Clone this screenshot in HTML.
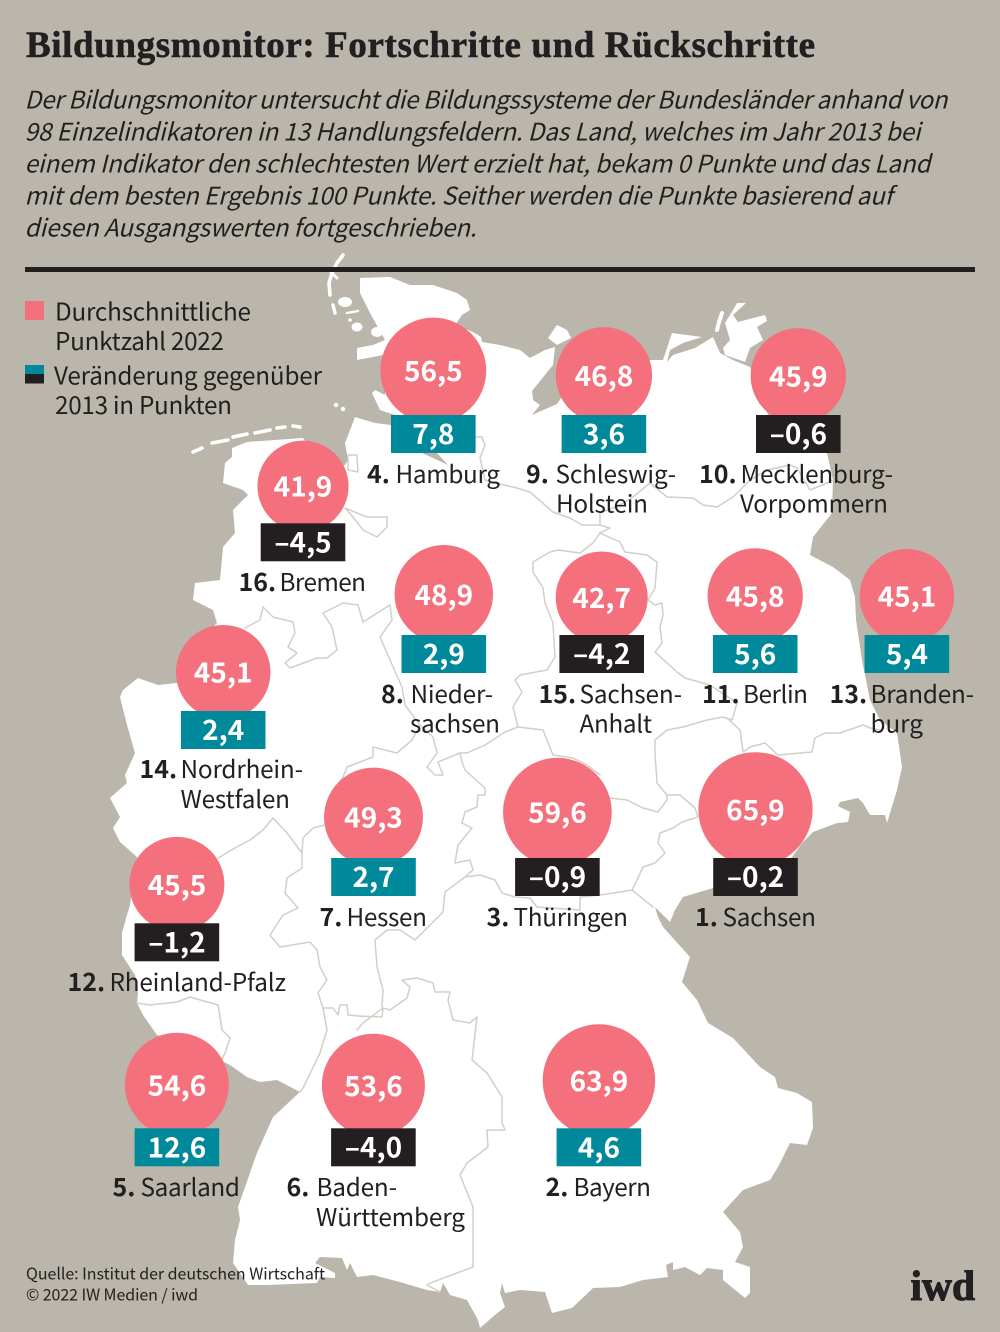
<!DOCTYPE html>
<html lang="de">
<head>
<meta charset="utf-8">
<title>Bildungsmonitor: Fortschritte und Rückschritte</title>
<style>
html,body{margin:0;padding:0;background:#bab6ab;}
svg{display:block;}
text{font-family:"Noto Sans CJK JP","Liberation Sans",sans-serif;fill:#231f20;}
.title{font-family:"Liberation Serif",serif;font-weight:700;font-size:37px;stroke:#231f20;stroke-width:.6px;}
.intro{font-style:italic;font-size:24.3px;}
.legend{font-size:24.3px;}
.label{font-size:24.3px;}
.rank{font-weight:700;font-size:25px;}
.source{font-size:16px;}
.logo{font-family:"Liberation Serif",serif;font-weight:700;font-size:42px;stroke:#231f20;stroke-width:1.1px;}
.val{font-weight:700;font-size:28px;fill:#fff;text-anchor:middle;}
</style>
</head>
<body>
<svg id="chart" xmlns="http://www.w3.org/2000/svg" width="1000" height="1332" viewBox="0 0 1000 1332">
<rect width="1000" height="1332" fill="#bab6ab"/>

<g id="map">
<path fill="#fff" d="M360,278 L390,277 410,285 433,285 457,293 467,300 470,310 462,315 455,325 473,332 481,337 482,342 500,345 520,350 530,358 545,350 555,347 553,365 532,391 533,400 540,405 532,415 557,404 570,385 600,370 650,360 663,360 672,333 702,337 683,343 670,350 667,362 673,355 695,348 713,337 720,353 733,360 750,367 770,420 810,450 827,453 833,480 832,513 813,537 810,555 833,567 850,580 855,597 856,620 862,660 870,700 880,720 897,733 902,767 897,790 887,823 885,815 870,815 863,803 858,798 840,802 838,806 850,812 848,822 837,823 813,832 802,843 790,860 760,880 713,888 683,897 675,910 670,922 655,907 658,917 663,927 690,957 682,982 697,1000 708,1023 733,1038 760,1067 775,1077 778,1088 797,1093 812,1102 813,1128 807,1145 790,1143 778,1167 770,1180 743,1190 723,1212 740,1232 743,1247 735,1262 750,1267 750,1293 745,1298 723,1280 723,1270 707,1268 700,1275 685,1267 673,1270 673,1262 666,1265 668,1277 643,1280 620,1287 593,1288 572,1308 552,1313 545,1292 520,1290 505,1293 502,1283 500,1293 505,1307 495,1315 480,1328 478,1320 467,1300 450,1295 443,1283 440,1292 427,1290 400,1282 373,1275 357,1277 350,1263 347,1270 342,1258 320,1257 315,1263 335,1273 335,1278 320,1277 317,1283 267,1285 248,1285 233,1263 235,1240 240,1220 238,1207 257,1153 273,1117 300,1092 277,1080 260,1082 247,1077 230,1065 200,1050 157,1035 143,1015 137,1003 138,993 135,975 122,955 122,933 127,915 130,905 137,857 120,842 113,828 120,817 110,798 127,783 125,775 135,753 127,725 120,697 123,690 138,678 158,685 177,683 200,640 217,623 213,610 193,600 195,583 220,580 223,547 235,533 233,510 248,495 243,490 223,483 225,463 232,457 232,448 247,442 303,438 325,470 345,465 348,460 345,443 347,438 355,417 375,423 391,425 420,452 448,465 437,453 420,435 395,415 380,410 372,393 375,390 385,395 385,365 383,355 357,360 357,348 373,345 385,340 370,313 360,293 Z"/>
<g fill="#fff" stroke="#fff" stroke-linecap="round" stroke-linejoin="round">
<polyline fill="none" stroke-width="3.6" points="343,255 337,263 332,273 329,283 330,295"/>
<polyline fill="none" stroke-width="3" points="331,272 337,278"/>
<polyline fill="none" stroke-width="3.5" points="333,305 335,313"/>
<ellipse cx="345" cy="302" rx="7" ry="5" stroke="none"/>
<polyline fill="none" stroke-width="2.4" points="347,313 358,311"/>
<circle cx="350" cy="320" r="1.8" stroke="none"/>
<ellipse cx="357" cy="327" rx="5.5" ry="4.5" stroke="none"/>
<ellipse cx="377" cy="332" rx="6" ry="5" stroke="none"/>
<circle cx="336" cy="405" r="2.2" stroke="none"/>
<circle cx="343" cy="409" r="2.2" stroke="none"/>
<polyline fill="none" stroke-width="3.6" points="193,452 202,448"/>
<polyline fill="none" stroke-width="3.6" points="212,443 228,440"/>
<polyline fill="none" stroke-width="3.6" points="233,437 247,434"/>
<polyline fill="none" stroke-width="3.6" points="255,433 270,430"/>
<polyline fill="none" stroke-width="3.6" points="277,428 285,427"/>
<polyline fill="none" stroke-width="3.6" points="293,426 300,427"/>
</g>
<g fill="#fff" stroke="#fff" stroke-linejoin="round" stroke-linecap="round">
<polygon stroke="none" points="548,338 557,325 567,330 571,338 557,345"/>
<polyline fill="none" stroke-width="4" points="722,313 719,322 717,330"/>
<polygon stroke="none" points="725,323 733,310 737,303 746,303 733,315 738,322 765,315 767,321 757,327 763,340 750,348 745,362 725,355 723,348 730,340"/>
</g>
<g fill="none" stroke="#d2cfc7" stroke-width="1.5" stroke-linejoin="round" stroke-linecap="round">
<polygon points="348,455 357,455 358,472 348,470"/>
<polygon points="345,508 367,517 387,517 387,527 377,537 363,530 353,517"/>
<polyline points="476,437 482,437 485,445 480,458 485,480 500,484 517,488 530,492 545,505 553,512 570,518 582,525 600,525 610,528 600,533 593,543 580,553"/>
<polyline points="600,533 620,542 625,552 647,555 657,562 655,588 648,600 655,605 662,603 663,615 660,627 662,643 655,652 677,672 685,678 710,685 737,703 732,720 723,717 707,720 683,727 667,730 655,740 655,753 657,783 667,795 680,795 695,808 698,817 682,822 673,828 660,833 658,843 665,853 655,863 643,867 637,880 632,890 653,907"/>
<polyline points="600,525 600,513 620,505 633,497 650,483 667,497 693,498 703,505 717,507 733,497 750,480 767,470 790,465 797,468 810,490 827,483 833,480"/>
<polyline points="727,718 740,730 743,752 750,747 765,743 778,755 812,752 815,738 825,733 840,733 863,725 870,728 880,730"/>
<polyline points="580,553 558,550 550,552 533,562 533,572 543,588 545,603 553,623 555,657 547,670 520,675 515,680 522,692 513,707 518,727 543,730 547,740 553,755 573,758 587,765 600,775"/>
<polyline points="610,798 627,800 643,808 658,812 667,800 667,795"/>
<polyline points="518,727 505,732 485,745 467,753 460,753 455,755 438,762 443,775 435,775 427,767 437,753 433,737 420,725"/>
<polyline points="245,628 260,620 263,607 273,617 293,622 295,633 288,647 297,653 285,663 290,668 317,658 327,658 337,650 332,627 323,613 343,603 358,605 363,622 390,605 392,620 380,637 387,653 393,667 402,687 405,705 420,725 412,740 397,753 373,747 373,757 347,767 343,777 335,790"/>
<polyline points="460,753 462,762 465,770 485,788 485,795 478,795 477,807 465,812 462,823 472,828 458,845 455,863 470,860 473,870 465,877 480,875 495,880 502,893 515,897 530,898 537,907 580,910 580,897 600,895 620,892 632,890"/>
<polyline points="465,877 445,892 443,912 425,930 415,940 400,930 387,930 375,940 377,967 383,990 382,1007"/>
<polyline points="323,1008 333,1008 338,1015 340,1005 347,1005 348,1015 358,1016 382,1017 383,1008 363,1023 357,1030"/>
<polyline points="383,1008 390,1010 407,998 410,987 402,980 417,978 433,983 435,992 450,992 448,1000 453,1020 470,1023 477,1017 472,1060 487,1073 502,1097 502,1123 505,1130 487,1130 488,1147 467,1163 460,1175 473,1207 473,1253 473,1267 433,1282 427,1285 440,1292"/>
<polyline points="218,858 235,848 250,840 263,830 273,818 287,833 302,853 303,838 313,828 325,825"/>
<polyline points="302,853 302,868 287,878 285,893 298,908 283,915 270,935 280,947 310,942 317,950 320,967 327,980 318,993 323,1008 327,1030 320,1053 303,1088 300,1092"/>
<polyline points="137,1003 150,1005 177,1002 190,997 218,1005 222,1030 230,1038 225,1053 220,1063"/>
</g>
</g>

<rect x="25" y="267" width="950" height="5" fill="#231f20"/>

<text class="title" x="26" y="57" textLength="789" lengthAdjust="spacing">Bildungsmonitor: Fortschritte und Rückschritte</text>
<g>
<text class="intro" x="24.5" y="108.5" textLength="923" lengthAdjust="spacing">Der Bildungsmonitor untersucht die Bildungssysteme der Bundesländer anhand von</text>
<text class="intro" x="24.5" y="140.5" textLength="896" lengthAdjust="spacing">98 Einzelindikatoren in 13 Handlungsfeldern. Das Land, welches im Jahr 2013 bei</text>
<text class="intro" x="24.5" y="172.5" textLength="906" lengthAdjust="spacing">einem Indikator den schlechtesten Wert erzielt hat, bekam 0 Punkte und das Land</text>
<text class="intro" x="24.5" y="204.5" textLength="868" lengthAdjust="spacing">mit dem besten Ergebnis 100 Punkte. Seither werden die Punkte basierend auf</text>
<text class="intro" x="24.5" y="236.5" textLength="452" lengthAdjust="spacing">diesen Ausgangswerten fortgeschrieben.</text>
</g>

<g>
<rect x="25" y="301" width="19" height="19" fill="#f4707c"/>
<text class="legend" x="55" y="320.5" textLength="196" lengthAdjust="spacing">Durchschnittliche</text>
<text class="legend" x="55" y="350" textLength="169" lengthAdjust="spacing">Punktzahl 2022</text>
<rect x="25" y="365" width="19" height="9" fill="#00899a"/>
<rect x="25" y="374" width="19" height="9.5" fill="#231f20"/>
<text class="legend" x="54" y="384.5" textLength="268" lengthAdjust="spacing">Veränderung gegenüber</text>
<text class="legend" x="55" y="414" textLength="177" lengthAdjust="spacing">2013 in Punkten</text>
</g>

<g id="markers">
<g id="m-hamburg" transform="translate(433.3,415)"></g>
<g id="m-schleswig-holstein" transform="translate(603.9,415)"></g>
<g id="m-mecklenburg-vorpommern" transform="translate(798.3,415)"></g>
<g id="m-bremen" transform="translate(303,523.3)"></g>
<g id="m-niedersachsen" transform="translate(443.8,635)"></g>
<g id="m-sachsen-anhalt" transform="translate(601.7,635)"></g>
<g id="m-berlin" transform="translate(755.2,635)"></g>
<g id="m-brandenburg" transform="translate(906.9,635)"></g>
<g id="m-nordrhein-westfalen" transform="translate(223.2,711)"></g>
<g id="m-hessen" transform="translate(373.5,858)"></g>
<g id="m-thueringen" transform="translate(557.4,858)"></g>
<g id="m-sachsen" transform="translate(755.5,858)"></g>
<g id="m-rheinland-pfalz" transform="translate(176.9,923.3)"></g>
<g id="m-saarland" transform="translate(176.9,1128.3)"></g>
<g id="m-baden-wuerttemberg" transform="translate(373.4,1128.3)"></g>
<g id="m-bayern" transform="translate(598.9,1128.3)"></g>
</g>

<g>
<g><text class="label rank" x="367" y="483">4.</text><text class="label" x="395.5" y="483" textLength="104.5">Hamburg</text></g>
<g><text class="label rank" x="526" y="483">9.</text><text class="label" x="555.5" y="483" textLength="120.5">Schleswig-</text><text class="label" x="556" y="512.5" textLength="92">Holstein</text></g>
<g><text class="label rank" x="699" y="483">10.</text><text class="label" x="740.5" y="483" textLength="152.5">Mecklenburg-</text><text class="label" x="740" y="512.5" textLength="148">Vorpommern</text></g>
<g><text class="label rank" x="238.5" y="591">16.</text><text class="label" x="279.5" y="591" textLength="86.5">Bremen</text></g>
<g><text class="label rank" x="381" y="703">8.</text><text class="label" x="410.5" y="703" textLength="82.5">Nieder-</text><text class="label" x="410" y="732.5" textLength="90">sachsen</text></g>
<g><text class="label rank" x="538.5" y="703">15.</text><text class="label" x="579.5" y="703" textLength="102.5">Sachsen-</text><text class="label" x="579.5" y="732.5" textLength="72.5">Anhalt</text></g>
<g><text class="label rank" x="702" y="703">11.</text><text class="label" x="743" y="703" textLength="65">Berlin</text></g>
<g><text class="label rank" x="829.5" y="703">13.</text><text class="label" x="870.5" y="703" textLength="103.5">Branden-</text><text class="label" x="870.5" y="732.5" textLength="52.5">burg</text></g>
<g><text class="label rank" x="139.5" y="778">14.</text><text class="label" x="180.5" y="778" textLength="122.5">Nordrhein-</text><text class="label" x="180.5" y="808" textLength="109.5">Westfalen</text></g>
<g><text class="label rank" x="319.5" y="926">7.</text><text class="label" x="346.5" y="926" textLength="80.5">Hessen</text></g>
<g><text class="label rank" x="486.5" y="926">3.</text><text class="label" x="513.5" y="926" textLength="114.5">Thüringen</text></g>
<g><text class="label rank" x="695" y="926">1.</text><text class="label" x="722.5" y="926" textLength="93.5">Sachsen</text></g>
<g><text class="label rank" x="67.5" y="991">12.</text><text class="label" x="109.5" y="991" textLength="176.5">Rheinland-Pfalz</text></g>
<g><text class="label rank" x="112.5" y="1196">5.</text><text class="label" x="140.5" y="1196" textLength="99.5">Saarland</text></g>
<g><text class="label rank" x="286.5" y="1196">6.</text><text class="label" x="316.5" y="1196" textLength="80.5">Baden-</text><text class="label" x="316" y="1226" textLength="149">Württemberg</text></g>
<g><text class="label rank" x="545.5" y="1196">2.</text><text class="label" x="573.5" y="1196" textLength="77.5">Bayern</text></g>
</g>

<g>
<text class="source" x="26" y="1279.5" textLength="299" lengthAdjust="spacing">Quelle: Institut der deutschen Wirtschaft</text>
<text class="source" x="26" y="1300.5" textLength="172" lengthAdjust="spacing">© 2022 IW Medien / iwd</text>
</g>
<text class="logo" x="910.5" y="1300" textLength="64.5" lengthAdjust="spacingAndGlyphs">iwd</text>
</svg>

<script>
const stateKeys = ["hamburg","schleswig-holstein","mecklenburg-vorpommern","bremen","niedersachsen","sachsen-anhalt","berlin","brandenburg","nordrhein-westfalen","hessen","thueringen","sachsen","rheinland-pfalz","saarland","baden-wuerttemberg","bayern"];
const averagePoints2022 = [56.5,46.8,45.9,41.9,48.9,42.7,45.8,45.1,45.1,49.3,59.6,65.9,45.5,54.6,53.6,63.9];
const changeSince2013 = [7.8,3.6,-0.6,-4.5,2.9,-4.2,5.6,5.4,2.4,2.7,-0.9,-0.2,-1.2,12.6,-4.0,4.6];

const SVG_NS = "http://www.w3.org/2000/svg";
const radiusScale = function (v) { return 7.04 * Math.sqrt(v); };
const formatValue = function (v) {
  const s = Math.abs(v).toFixed(1).replace(".", ",");
  return v < 0 ? "\u2013" + s : s;
};
const BOX_W = 84.6, BOX_H = 38, OVERLAP = 8.5;

stateKeys.forEach(function (key, i) {
  const g = document.getElementById("m-" + key);
  const v = averagePoints2022[i];
  const c = changeSince2013[i];
  const r = radiusScale(v);
  const cy = OVERLAP - r;

  const circle = document.createElementNS(SVG_NS, "circle");
  
  
  circle.setAttribute("cx", 0);
  circle.setAttribute("cy", cy);
  circle.setAttribute("r", r);
  circle.setAttribute("fill", "#f4707c");
  g.appendChild(circle);

  const valueText = document.createElementNS(SVG_NS, "text");
  
  
  valueText.setAttribute("class", "val");
  valueText.setAttribute("x", 0);
  valueText.setAttribute("y", cy + 10.5);
  valueText.textContent = formatValue(v);
  g.appendChild(valueText);

  const box = document.createElementNS(SVG_NS, "rect");
  
  
  box.setAttribute("x", -BOX_W / 2);
  box.setAttribute("y", 0);
  box.setAttribute("width", BOX_W);
  box.setAttribute("height", BOX_H);
  box.setAttribute("fill", c < 0 ? "#231f20" : "#00899a");
  g.appendChild(box);

  const changeText = document.createElementNS(SVG_NS, "text");
  
  
  changeText.setAttribute("class", "val");
  changeText.setAttribute("x", 0);
  changeText.setAttribute("y", 29);
  changeText.textContent = formatValue(c);
  g.appendChild(changeText);
});
</script>
</body>
</html>
